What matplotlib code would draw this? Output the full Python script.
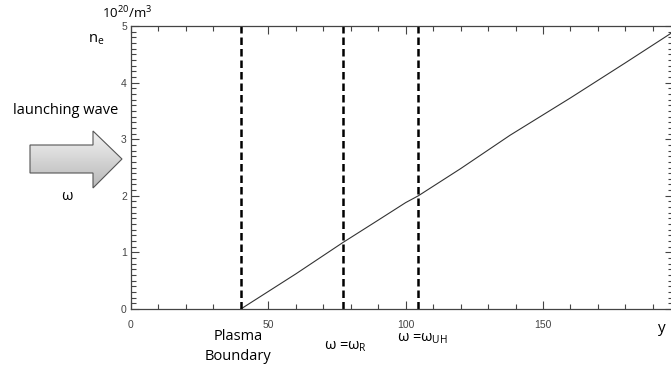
import numpy as np
import matplotlib
matplotlib.use('Agg')
import matplotlib.pyplot as plt
from matplotlib.patches import Polygon

plt.rcParams['font.family'] = ['Open Sans', 'DejaVu Sans']
plt.rcParams['mathtext.fontset'] = 'custom'
plt.rcParams['mathtext.rm'] = 'Open Sans'
plt.rcParams['mathtext.it'] = 'Open Sans:italic'

# density profile n_e(y)
y_pos = [40, 50, 60, 77, 90, 100, 104.6, 120, 138, 160, 180, 197.5]
n_e = [0.0, 0.31, 0.62, 1.17, 1.57, 1.88, 2.0, 2.48, 3.07, 3.73, 4.35, 4.90]

# vertical markers
y_lines = [40, 77.3, 104.6]

W, H = 671, 369
fig = plt.figure(figsize=(W / 100, H / 100), dpi=100)

def px(x, y):
    return x / W, 1 - y / H

ax = fig.add_axes([131 / W, (H - 309) / H, 542.5 / W, 283 / H])
ax.plot(y_pos, n_e, color='#333333', lw=0.8)
for yl in y_lines:
    ax.axvline(yl, color='black', lw=1.8, ls=(0, (3, 1.6)))

ax.set_xlim(0, 197.5)
ax.set_ylim(0, 5)
ax.set_xticks([0, 50, 100, 150])
ax.set_xticks(np.arange(0, 200, 10), minor=True)
ax.set_yticks([0, 1, 2, 3, 4, 5])
ax.set_yticks(np.arange(0, 5.01, 0.1), minor=True)
ax.tick_params(which='both', direction='in', top=True, right=True,
               width=0.8, color='#444444', labelsize=7.5, labelcolor='#444444')
ax.tick_params(which='major', length=6)
ax.tick_params(which='minor', length=3.5)
ax.tick_params(axis='x', pad=8)
ax.tick_params(axis='y', pad=3)
for lab in ax.get_xticklabels() + ax.get_yticklabels():
    lab.set_family('Liberation Sans')
for s in ax.spines.values():
    s.set_color('#444444')
    s.set_linewidth(0.9)

# annotations
fs = 10.5
fig.text(*px(127, 13), '10$^{20}$/m$^{3}$', fontsize=fs - 1, ha='center', va='center')
fig.text(*px(96, 39), 'n$_\\mathrm{e}$', fontsize=fs, ha='center', va='center')
fig.text(*px(66, 110), 'launching wave', fontsize=fs, ha='center', va='center')
fig.text(*px(67, 197), 'ω', fontsize=fs, ha='center', va='center')
fig.text(*px(238, 336), 'Plasma', fontsize=fs, ha='center', va='center')
fig.text(*px(238, 357), 'Boundary', fontsize=fs, ha='center', va='center')
fig.text(*px(346, 347), 'ω =ω$_\\mathrm{R}$', fontsize=fs, ha='center', va='center')
fig.text(*px(422, 338), 'ω =ω$_\\mathrm{UH}$', fontsize=fs, ha='center', va='center')
fig.text(*px(662, 329), 'y', fontsize=fs + 0.5, ha='center', va='center')

# arrow with gradient
arrow_px = [(30, 145), (93, 145), (93, 131), (122, 159), (93, 188), (93, 173), (30, 173)]
arrow = Polygon([px(x, y) for x, y in arrow_px], closed=True, transform=fig.transFigure,
                facecolor='none', edgecolor='#555555', lw=0.8, zorder=3)
bg = fig.add_axes([0, 0, 1, 1], zorder=-1)
bg.set_axis_off()
bg.set_xlim(0, 1)
bg.set_ylim(0, 1)
grad = np.linspace(0, 1, 100).reshape(-1, 1)
im = bg.imshow(grad, cmap=matplotlib.colors.LinearSegmentedColormap.from_list('g', ['#f2f2f2', '#b8b8b8']),
               extent=[px(30, 0)[0], px(122, 0)[0], px(0, 188)[1], px(0, 131)[1]],
               origin='upper', aspect='auto', transform=bg.transData)
clip = Polygon([px(x, y) for x, y in arrow_px], closed=True, transform=fig.transFigure)
im.set_clip_path(clip)
fig.patches.append(arrow)

fig.savefig('out.png', dpi=100)
